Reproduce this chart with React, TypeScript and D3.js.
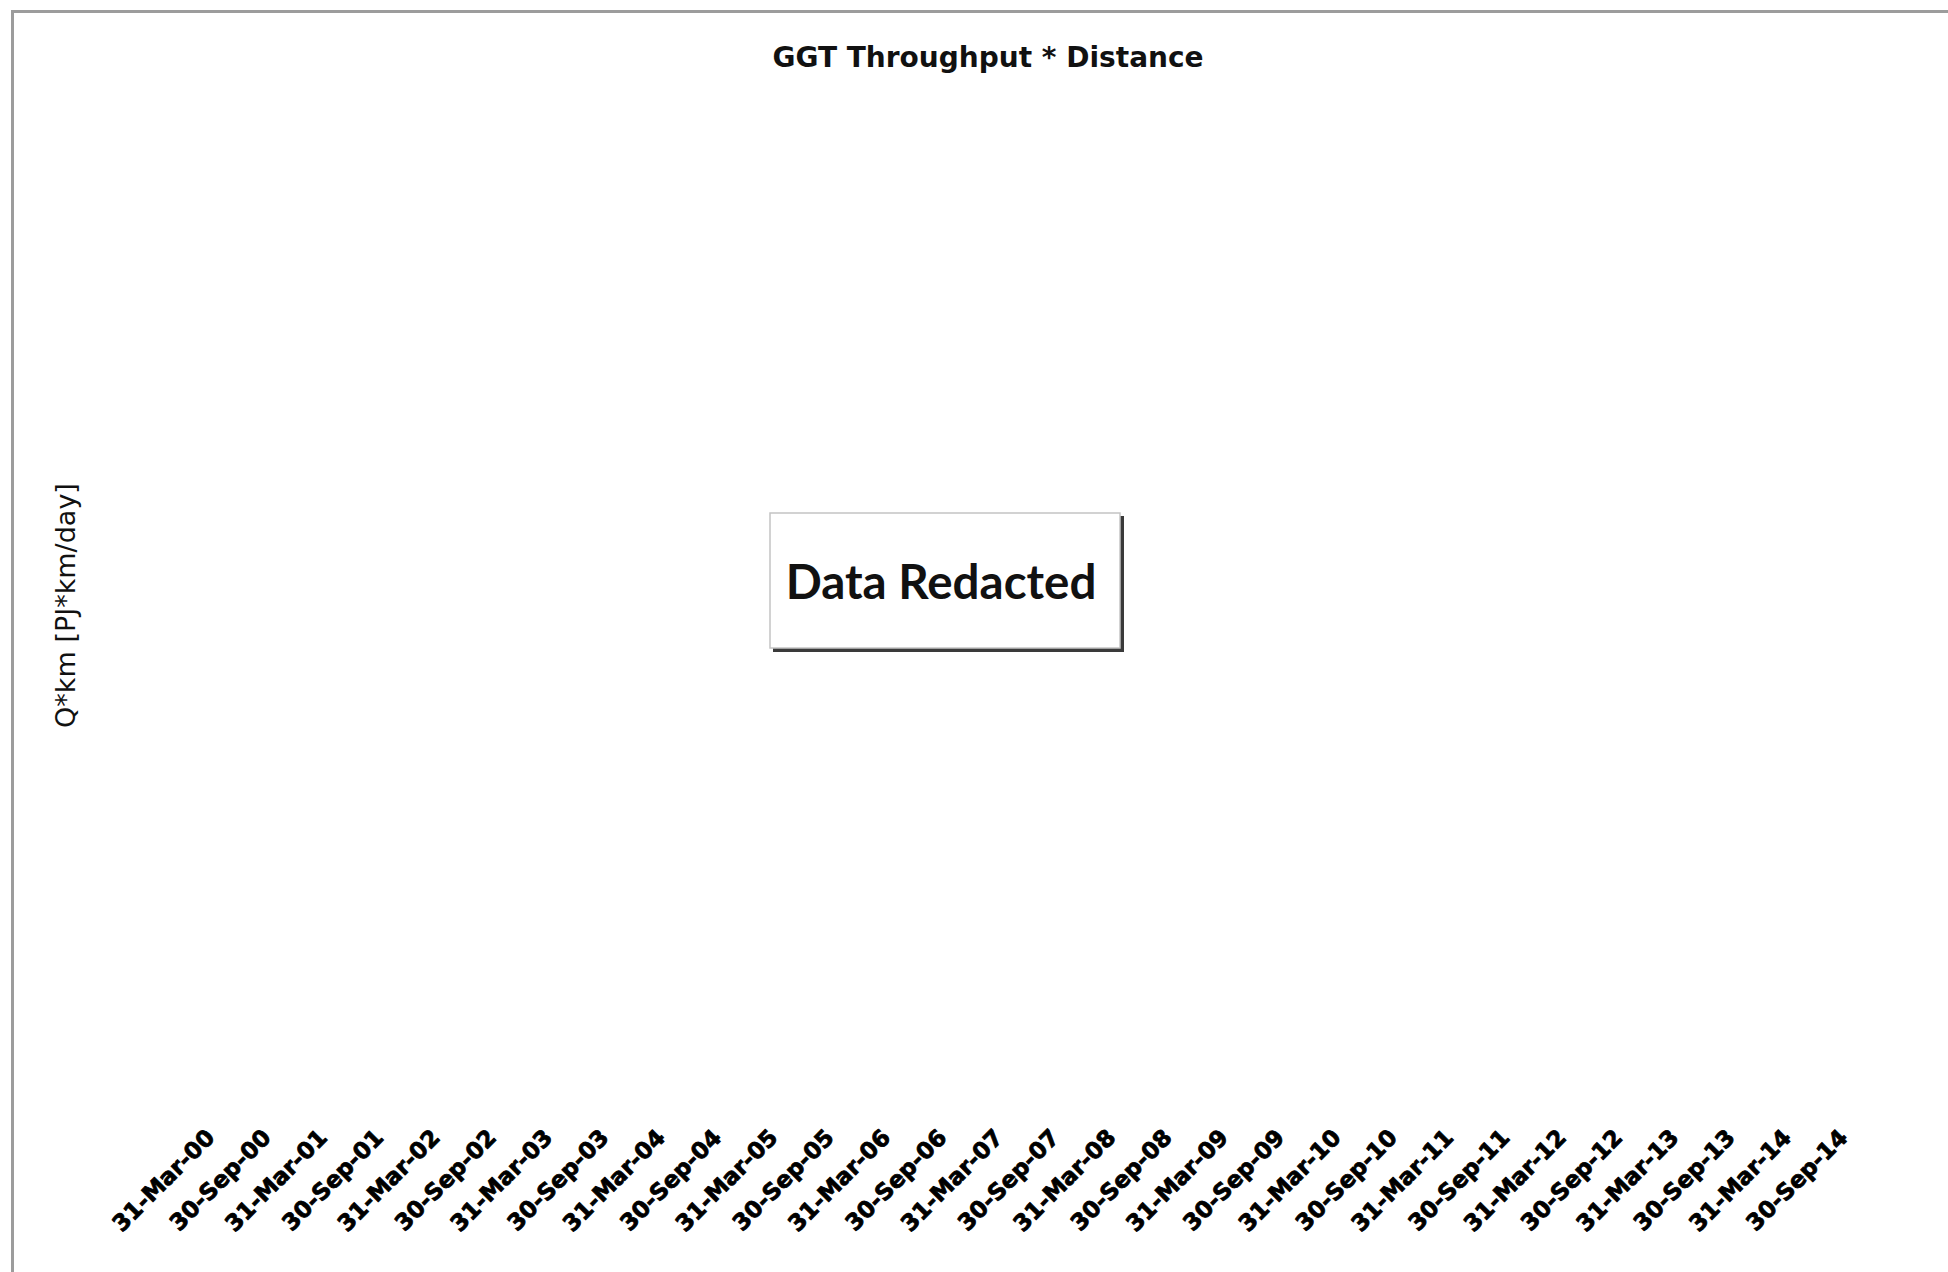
import React from "react";
import * as d3 from "d3";

const categories: string[] = [
  "31-Mar-00", "30-Sep-00", "31-Mar-01", "30-Sep-01", "31-Mar-02", "30-Sep-02",
  "31-Mar-03", "30-Sep-03", "31-Mar-04", "30-Sep-04", "31-Mar-05", "30-Sep-05",
  "31-Mar-06", "30-Sep-06", "31-Mar-07", "30-Sep-07", "31-Mar-08", "30-Sep-08",
  "31-Mar-09", "30-Sep-09", "31-Mar-10", "30-Sep-10", "31-Mar-11", "30-Sep-11",
  "31-Mar-12", "30-Sep-12", "31-Mar-13", "30-Sep-13", "31-Mar-14", "30-Sep-14",
];
const chartTitle = "GGT Throughput * Distance";
const yAxisTitle = "Q*km [PJ*km/day]";
const redactedNote = "Data Redacted";

const W = 1948;
const H = 1272;

export default function App() {
  const x = d3
    .scalePoint<string>()
    .domain(categories)
    .range([216, 1849]);

  const dejavu = "'DejaVu Sans', 'Open Sans', sans-serif";
  const lato = "Lato, 'Open Sans', sans-serif";

  return (
    <svg
      width={W}
      height={H}
      style={{ position: "absolute", left: 0, top: 0, background: "#fff" }}
    >
      <rect x={0} y={0} width={W} height={H} fill="#fff" />
      {/* chart border (top and left visible) */}
      <line x1={12} y1={11.5} x2={W} y2={11.5} stroke="#9c9c9c" strokeWidth={3} />
      <line x1={12.5} y1={10} x2={12.5} y2={H} stroke="#9c9c9c" strokeWidth={3} />

      {/* title */}
      <text
        x={988}
        y={67}
        textAnchor="middle"
        fontFamily={dejavu}
        fontWeight="bold"
        fontSize={28}
        fill="#111"
      >
        {chartTitle}
      </text>

      {/* y axis title */}
      <text
        transform={`translate(75,605.5) rotate(-90)`}
        textAnchor="middle"
        fontFamily={dejavu}
        fontSize={27}
        fill="#111"
      >
        {yAxisTitle}
      </text>

      {/* x tick labels */}
      <g>
        {categories.map((c) => (
          <text
            key={c}
            transform={`translate(${x(c)},1139) rotate(-45)`}
            textAnchor="end"
            fontFamily={dejavu}
            fontWeight="bold"
            fontSize={23}
            stroke="#000"
            strokeWidth={0.8}
            fill="#000"
          >
            {c}
          </text>
        ))}
      </g>

      {/* redaction box */}
      <rect x={773} y={516} width={351} height={136} fill="#3a3a3a" />
      <rect x={770} y={513} width={350} height={135} fill="#fff" stroke="#c4c4c4" strokeWidth={1.5} />
      <text
        x={941}
        y={599}
        textAnchor="middle"
        fontFamily={lato}
        fontWeight="bold"
        fontSize={47.5}
        fill="#111"
      >
        {redactedNote}
      </text>
    </svg>
  );
}
